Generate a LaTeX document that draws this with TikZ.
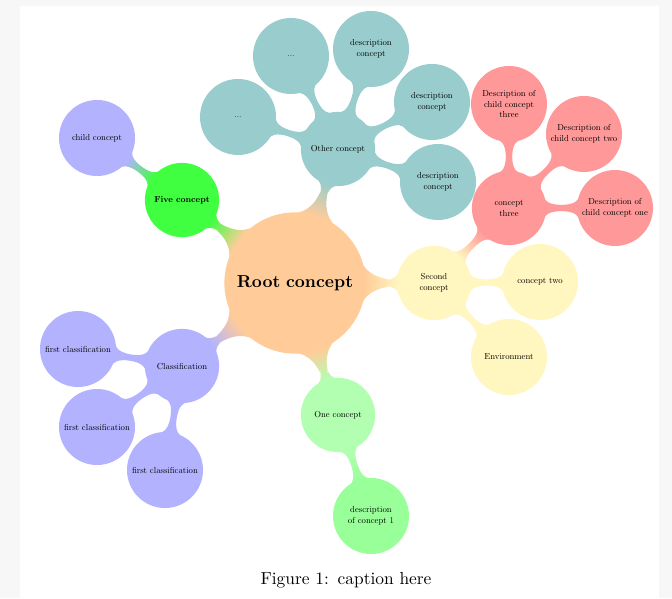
\documentclass[tikz,border=0pt]{standalone}
\usetikzlibrary{mindmap}

\definecolor{secondcol}{RGB}{255,246,192}
\font\mapfont=cmr10 at 5pt
\font\mapbold=cmbx10 at 5pt

\begin{document}
\begin{tikzpicture}[mindmap,
      x=0.575pt, y=-0.575pt,
      rootnode/.style={
         concept,
         minimum size=80pt,
         text width=74pt,
         font=\fontsize{10}{12}\selectfont\bfseries},
      mapnode/.style={
         concept,
         minimum size=41.5pt,
         text width=,
         align=center,
         inner sep=0pt,
         font=\fontsize{5}{6.3}\selectfont\mapfont},
      leafnode/.style={
         mapnode,
         minimum size=42.5pt}
      ]
      % page
      \fill[gray!6] (0,0) rectangle (672,598);
      \fill[white] (20,6) rectangle (659,598);
      \useasboundingbox (0,0) rectangle (672,598);

      \node[rootnode,concept color=orange!40] (root) at (295,283) {Root concept};

      % first level
      \node[mapnode,concept color=teal!40] (other) at (338,149) {Other concept};
      \node[mapnode,concept color=red!40] (three) at (509,208) {concept\\three};
      \node[mapnode,concept color=secondcol] (second) at (434,283) {Second\\concept};
      \node[mapnode,concept color=green!30] (one) at (338,415) {One concept};
      \node[mapnode,concept color=blue!30] (class) at (182,366) {Classification};
      \node[mapnode,concept color=green!75,font=\fontsize{5}{6.3}\selectfont\mapbold] (five) at (182,200) {Five concept};

      % second level
      \node[leafnode,concept color=teal!40] (dotsa) at (238,117) {...};
      \node[leafnode,concept color=teal!40] (dotsb) at (291,56) {...};
      \node[leafnode,concept color=teal!40] (desca) at (371,49) {description\\concept};
      \node[leafnode,concept color=teal!40] (descb) at (432,102) {description\\concept};
      \node[leafnode,concept color=teal!40] (descc) at (438,182) {description\\concept};
      \node[leafnode,concept color=red!40] (childthree) at (509,104) {Description of\\child concept\\three};
      \node[leafnode,concept color=red!40] (childtwo) at (584,134) {Description of\\child concept two};
      \node[leafnode,concept color=red!40] (childone) at (615,208) {Description of\\child concept one};
      \node[leafnode,concept color=secondcol] (two) at (540,282) {concept two};
      \node[leafnode,concept color=secondcol] (env) at (509,357) {Environment};
      \node[leafnode,concept color=green!40] (descone) at (371,516) {description\\of concept 1};
      \node[leafnode,concept color=blue!30] (firsta) at (78,349) {first classification};
      \node[leafnode,concept color=blue!30] (firstb) at (97,427) {first classification};
      \node[leafnode,concept color=blue!30] (firstc) at (165,470) {first classification};
      \node[leafnode,concept color=blue!30] (child) at (97,138) {child concept};

    \foreach \i/\j/\ca/\cb in {% start node/end node/start colour/end colour
      root/other/orange!40/teal!40,
      root/second/orange!40/secondcol,
      root/one/orange!40/green!30,
      root/class/orange!40/blue!30,
      root/five/orange!40/green!75,
      second/three/secondcol/red!40,
      other/dotsa/teal!40/teal!40,
      other/dotsb/teal!40/teal!40,
      other/desca/teal!40/teal!40,
      other/descb/teal!40/teal!40,
      other/descc/teal!40/teal!40,
      three/childthree/red!40/red!40,
      three/childtwo/red!40/red!40,
      three/childone/red!40/red!40,
      second/two/secondcol/secondcol,
      second/env/secondcol/secondcol,
      one/descone/green!30/green!40,
      class/firsta/blue!30/blue!30,
      class/firstb/blue!30/blue!30,
      class/firstc/blue!30/blue!30,
      five/child/green!75/blue!30}
       \path (\i) to[circle connection bar switch color=from (\ca) to (\cb)] (\j);

    \node[font=\fontsize{10}{12}\selectfont] (caption) at (346,580) {Figure 1: caption here};

    \end{tikzpicture}
\end{document}
